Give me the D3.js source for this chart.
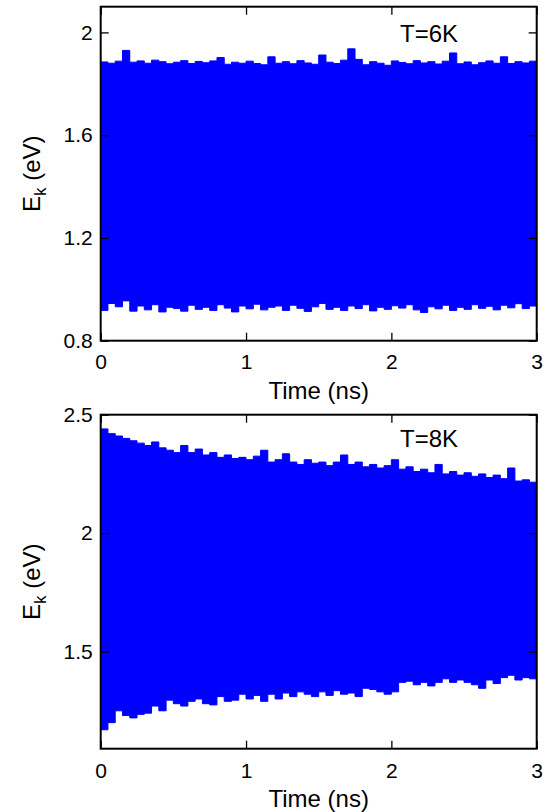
<!DOCTYPE html>
<html>
<head>
<meta charset="utf-8">
<script src="https://cdn.jsdelivr.net/npm/d3@7"></script>
<style>
body { margin: 0; background: #fff; }
svg { display: block; font-family: "Liberation Sans", Arial, sans-serif; }
.axis path.domain { display: none; }
.axis line { stroke: #000; stroke-width: 1.3; }
.axis text { font-size: 21px; fill: #000; font-family: "Liberation Sans", Arial, sans-serif; }
</style>
</head>
<body>
<div class="canvas"></div>
<script>
// sample times (ns), shared by both runs
var times = [0, 0.05, 0.1, 0.15, 0.2, 0.25, 0.3, 0.35, 0.4, 0.45,
	0.5, 0.55, 0.6, 0.65, 0.7, 0.75, 0.8, 0.85, 0.9, 0.95,
	1.0, 1.05, 1.1, 1.15, 1.2, 1.25, 1.3, 1.35, 1.4, 1.45,
	1.5, 1.55, 1.6, 1.65, 1.7, 1.75, 1.8, 1.85, 1.9, 1.95,
	2.0, 2.05, 2.1, 2.15, 2.2, 2.25, 2.3, 2.35, 2.4, 2.45,
	2.5, 2.55, 2.6, 2.65, 2.7, 2.75, 2.8, 2.85, 2.9, 2.95, 3.0];

// T=6K : upper / lower envelope of the fast oscillation of Ek (eV)
var upper6K = [1.885, 1.880, 1.888, 1.930, 1.884, 1.889, 1.880, 1.892, 1.886, 1.878,
	1.884, 1.890, 1.879, 1.887, 1.882, 1.889, 1.902, 1.876, 1.884, 1.880,
	1.888, 1.879, 1.874, 1.905, 1.880, 1.886, 1.878, 1.890, 1.881, 1.876,
	1.912, 1.884, 1.879, 1.892, 1.936, 1.895, 1.874, 1.886, 1.880, 1.872,
	1.889, 1.883, 1.878, 1.890, 1.881, 1.886, 1.877, 1.888, 1.920, 1.878,
	1.885, 1.874, 1.882, 1.889, 1.880, 1.905, 1.879, 1.886, 1.881, 1.888, 1.872];
var lower6K = [0.918, 0.945, 0.932, 0.955, 0.915, 0.935, 0.920, 0.940, 0.912, 0.930,
	0.925, 0.915, 0.938, 0.922, 0.930, 0.918, 0.940, 0.927, 0.912, 0.935,
	0.924, 0.942, 0.920, 0.930, 0.935, 0.918, 0.938, 0.926, 0.914, 0.932,
	0.945, 0.922, 0.930, 0.918, 0.935, 0.925, 0.940, 0.916, 0.930, 0.922,
	0.936, 0.927, 0.940, 0.920, 0.910, 0.932, 0.924, 0.938, 0.918, 0.930,
	0.922, 0.940, 0.926, 0.934, 0.920, 0.938, 0.928, 0.944, 0.925, 0.935, 0.948];

// T=8K
var upper8K = [2.44, 2.42, 2.41, 2.40, 2.39, 2.38, 2.37, 2.385, 2.36, 2.35,
	2.34, 2.37, 2.34, 2.355, 2.33, 2.34, 2.32, 2.33, 2.315, 2.32,
	2.31, 2.325, 2.35, 2.30, 2.31, 2.335, 2.30, 2.29, 2.31, 2.295,
	2.30, 2.285, 2.30, 2.33, 2.29, 2.30, 2.28, 2.29, 2.275, 2.285,
	2.31, 2.27, 2.28, 2.26, 2.27, 2.255, 2.29, 2.25, 2.26, 2.245,
	2.255, 2.24, 2.25, 2.235, 2.245, 2.23, 2.275, 2.22, 2.225, 2.215, 2.22];
var lower8K = [1.17, 1.20, 1.25, 1.23, 1.22, 1.235, 1.24, 1.27, 1.25, 1.295,
	1.28, 1.27, 1.29, 1.30, 1.28, 1.275, 1.31, 1.29, 1.295, 1.32,
	1.30, 1.315, 1.29, 1.32, 1.30, 1.325, 1.31, 1.33, 1.32, 1.31,
	1.33, 1.315, 1.335, 1.32, 1.325, 1.31, 1.345, 1.34, 1.33, 1.32,
	1.33, 1.37, 1.375, 1.36, 1.37, 1.355, 1.37, 1.385, 1.37, 1.38,
	1.37, 1.36, 1.345, 1.38, 1.365, 1.39, 1.40, 1.38, 1.39, 1.385, 1.43];

var xTicks = [0, 1, 2, 3];
var yTicks6K = [0.8, 1.2, 1.6, 2.0];
var yTicks8K = [1.5, 2.0, 2.5];

var width = 553, height = 812;

var svg = d3.select('.canvas').append('svg')
	.attr('width', width).attr('height', height);

function fmt(d) { return String(+d.toFixed(1)); }

function drawPanel(opts) {
	var x = d3.scaleLinear().domain([0, 3]).range([opts.left, opts.right]);
	var y = d3.scaleLinear().domain(opts.yDomain).range([opts.bottom, opts.top]);
	var grp = svg.append('g');

	var rows = times.map(function(t, i) {
		return { t: t, hi: opts.upper[i], lo: opts.lower[i] };
	});

	grp.append('clipPath').attr('id', opts.id)
		.append('rect')
		.attr('x', opts.left).attr('y', opts.top)
		.attr('width', opts.right - opts.left).attr('height', opts.bottom - opts.top);

	var area = d3.area()
		.curve(d3.curveStepAfter)
		.x(function(d) { return x(d.t); })
		.y0(function(d) { return y(d.lo); })
		.y1(function(d) { return y(d.hi); });

	grp.append('path')
		.datum(rows)
		.attr('clip-path', 'url(#' + opts.id + ')')
		.attr('d', area)
		.attr('fill', '#0000ff')
		.attr('stroke', '#0000ff')
		.attr('stroke-width', 1);

	// inward ticks on all four sides
	grp.append('g').attr('class', 'axis')
		.attr('transform', 'translate(0,' + opts.bottom + ')')
		.call(d3.axisBottom(x).tickValues(xTicks).tickSize(-8).tickPadding(opts.xPad).tickFormat(fmt));
	grp.append('g').attr('class', 'axis')
		.attr('transform', 'translate(0,' + opts.top + ')')
		.call(d3.axisTop(x).tickValues(xTicks).tickSize(-8).tickFormat(''));
	grp.append('g').attr('class', 'axis')
		.attr('transform', 'translate(' + opts.left + ',0)')
		.call(d3.axisLeft(y).tickValues(opts.yTicks).tickSize(-8).tickPadding(8).tickFormat(fmt));
	grp.append('g').attr('class', 'axis')
		.attr('transform', 'translate(' + opts.right + ',0)')
		.call(d3.axisRight(y).tickValues(opts.yTicks).tickSize(-8).tickFormat(''));

	grp.append('rect')
		.attr('x', opts.left).attr('y', opts.top)
		.attr('width', opts.right - opts.left).attr('height', opts.bottom - opts.top)
		.attr('fill', 'none').attr('stroke', '#000').attr('stroke-width', 2);

	grp.append('text')
		.attr('x', (opts.left + opts.right) / 2)
		.attr('y', opts.xLabelY)
		.attr('text-anchor', 'middle')
		.style('font-size', '24px')
		.text('Time (ns)');

	var yl = grp.append('text')
		.attr('transform', 'translate(40,' + (opts.top + opts.bottom) / 2 + ') rotate(-90)')
		.attr('text-anchor', 'middle')
		.style('font-size', '24px');
	yl.append('tspan').text('E');
	yl.append('tspan').attr('dy', 6).style('font-size', '17px').text('k');
	yl.append('tspan').attr('dy', -6).text(' (eV)');

	grp.append('text')
		.attr('x', 429)
		.attr('y', opts.noteY)
		.attr('text-anchor', 'middle')
		.style('font-size', '24px')
		.text(opts.note);
}

drawPanel({
	id: 'clip6', left: 100.7, right: 536.7, top: 6.7, bottom: 340.7,
	yDomain: [0.8, 2.1], yTicks: yTicks6K,
	upper: upper6K, lower: lower6K,
	xPad: 13, xLabelY: 399, note: 'T=6K', noteY: 42
});

drawPanel({
	id: 'clip8', left: 100.7, right: 536.7, top: 414.7, bottom: 748.7,
	yDomain: [1.09, 2.5], yTicks: yTicks8K,
	upper: upper8K, lower: lower8K,
	xPad: 14, xLabelY: 807, note: 'T=8K', noteY: 447
});
</script>
</body>
</html>
